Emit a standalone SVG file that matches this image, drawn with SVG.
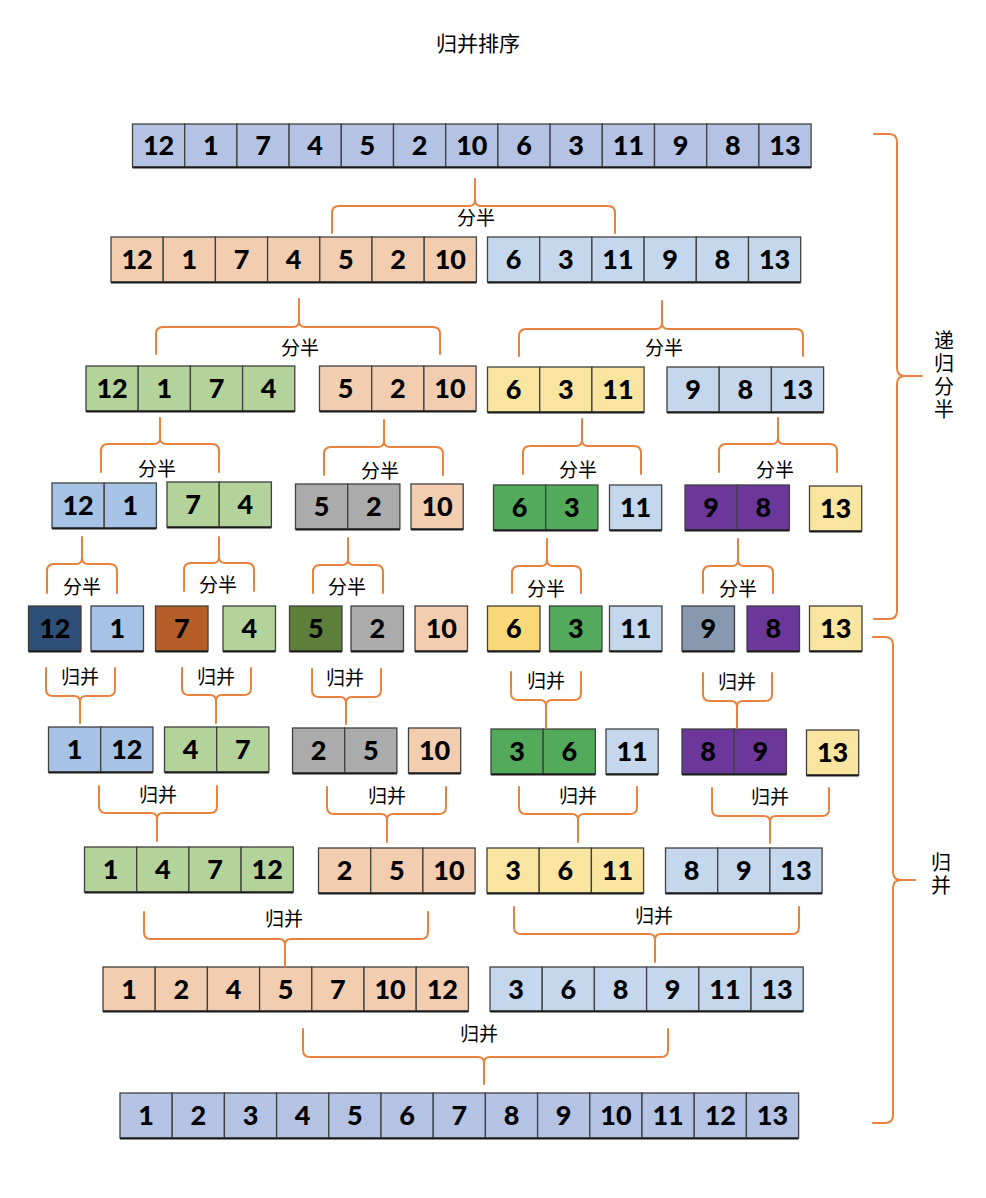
<svg xmlns="http://www.w3.org/2000/svg" width="986" height="1198" viewBox="0 0 986 1198">
<style>
.c{stroke:#404040;stroke-width:1.3}
.sh{stroke:#1a1a1a;stroke-width:2.2}
.n{font-family:Lato,"Liberation Sans",sans-serif;font-weight:900;font-size:27px;fill:#000;text-anchor:middle}
.l{font-family:"Noto Sans CJK SC",sans-serif;font-size:19px;fill:#000;text-anchor:middle}
.v{font-family:"Noto Sans CJK SC",sans-serif;font-size:20px;fill:#000;text-anchor:middle;writing-mode:vertical-rl;letter-spacing:3px}
.br{fill:none;stroke:#E8823E;stroke-width:2;stroke-linejoin:round;stroke-linecap:round}
.lav{fill:#B4C3E3}.pe{fill:#F2CDB0}.lb{fill:#C5D7EC}.gr{fill:#B4D39B}.ye{fill:#FAE5A0}.bl{fill:#A6C3E5}.gy{fill:#ABABAB}.dg{fill:#52AA5A}.pu{fill:#6B379A}
.nv{fill:#2E4F78}.bn{fill:#B55E27}.ol{fill:#5E7E3C}.go{fill:#F8D879}.sl{fill:#8898AE}
</style>
<rect width="986" height="1198" fill="#fff"/>
<text x="478" y="51" style="font-family:'Noto Sans CJK SC',sans-serif;font-size:21px;text-anchor:middle">归并排序</text>

<g id="row1">
<rect class="c lav" x="132.5" y="124" width="52.2" height="43"/><rect class="c lav" x="184.7" y="124" width="52.2" height="43"/><rect class="c lav" x="236.9" y="124" width="52.2" height="43"/><rect class="c lav" x="289.1" y="124" width="52.2" height="43"/><rect class="c lav" x="341.3" y="124" width="52.2" height="43"/><rect class="c lav" x="393.5" y="124" width="52.2" height="43"/><rect class="c lav" x="445.7" y="124" width="52.2" height="43"/><rect class="c lav" x="497.9" y="124" width="52.2" height="43"/><rect class="c lav" x="550.1" y="124" width="52.2" height="43"/><rect class="c lav" x="602.3" y="124" width="52.2" height="43"/><rect class="c lav" x="654.5" y="124" width="52.2" height="43"/><rect class="c lav" x="706.7" y="124" width="52.2" height="43"/><rect class="c lav" x="758.9" y="124" width="52.2" height="43"/>
<line class="sh" x1="132.5" y1="167.5" x2="811.1" y2="167.5"/>
<text class="n" x="158.6" y="155">12</text><text class="n" x="210.8" y="155">1</text><text class="n" x="263" y="155">7</text><text class="n" x="315.2" y="155">4</text><text class="n" x="367.4" y="155">5</text><text class="n" x="419.6" y="155">2</text><text class="n" x="471.8" y="155">10</text><text class="n" x="524" y="155">6</text><text class="n" x="576.2" y="155">3</text><text class="n" x="628.4" y="155">11</text><text class="n" x="680.6" y="155">9</text><text class="n" x="732.8" y="155">8</text><text class="n" x="785" y="155">13</text>
</g>

<g id="row2-left">
<rect class="c pe" x="111" y="237" width="52.2" height="45"/><rect class="c pe" x="163.2" y="237" width="52.2" height="45"/><rect class="c pe" x="215.4" y="237" width="52.2" height="45"/><rect class="c pe" x="267.6" y="237" width="52.2" height="45"/><rect class="c pe" x="319.8" y="237" width="52.2" height="45"/><rect class="c pe" x="372" y="237" width="52.2" height="45"/><rect class="c pe" x="424.2" y="237" width="52.2" height="45"/>
<line class="sh" x1="111" y1="282.5" x2="476.4" y2="282.5"/>
<text class="n" x="137.1" y="269">12</text><text class="n" x="189.3" y="269">1</text><text class="n" x="241.5" y="269">7</text><text class="n" x="293.7" y="269">4</text><text class="n" x="345.9" y="269">5</text><text class="n" x="398.1" y="269">2</text><text class="n" x="450.3" y="269">10</text>
</g>
<g id="row2-right">
<rect class="c lb" x="487.5" y="237" width="52.2" height="45"/><rect class="c lb" x="539.7" y="237" width="52.2" height="45"/><rect class="c lb" x="591.9" y="237" width="52.2" height="45"/><rect class="c lb" x="644.1" y="237" width="52.2" height="45"/><rect class="c lb" x="696.3" y="237" width="52.2" height="45"/><rect class="c lb" x="748.5" y="237" width="52.2" height="45"/>
<line class="sh" x1="487.5" y1="282.5" x2="800.7" y2="282.5"/>
<text class="n" x="513.6" y="269">6</text><text class="n" x="565.8" y="269">3</text><text class="n" x="618" y="269">11</text><text class="n" x="670.2" y="269">9</text><text class="n" x="722.4" y="269">8</text><text class="n" x="774.6" y="269">13</text>
</g>

<g id="row3-a">
<rect class="c gr" x="86" y="366" width="52.2" height="45"/><rect class="c gr" x="138.2" y="366" width="52.2" height="45"/><rect class="c gr" x="190.4" y="366" width="52.2" height="45"/><rect class="c gr" x="242.6" y="366" width="52.2" height="45"/>
<line class="sh" x1="86" y1="411.5" x2="294.8" y2="411.5"/>
<text class="n" x="112.1" y="398">12</text><text class="n" x="164.3" y="398">1</text><text class="n" x="216.5" y="398">7</text><text class="n" x="268.7" y="398">4</text>
</g>
<g id="row3-b">
<rect class="c pe" x="319.5" y="366" width="52.2" height="45"/><rect class="c pe" x="371.7" y="366" width="52.2" height="45"/><rect class="c pe" x="423.9" y="366" width="52.2" height="45"/>
<line class="sh" x1="319.5" y1="411.5" x2="476.1" y2="411.5"/>
<text class="n" x="345.6" y="398">5</text><text class="n" x="397.8" y="398">2</text><text class="n" x="450" y="398">10</text>
</g>
<g id="row3-c">
<rect class="c ye" x="487.5" y="367" width="52.2" height="45"/><rect class="c ye" x="539.7" y="367" width="52.2" height="45"/><rect class="c ye" x="591.9" y="367" width="52.2" height="45"/>
<line class="sh" x1="487.5" y1="412.5" x2="644.1" y2="412.5"/>
<text class="n" x="513.6" y="399">6</text><text class="n" x="565.8" y="399">3</text><text class="n" x="618" y="399">11</text>
</g>
<g id="row3-d">
<rect class="c lb" x="667" y="367" width="52.2" height="45"/><rect class="c lb" x="719.2" y="367" width="52.2" height="45"/><rect class="c lb" x="771.4" y="367" width="52.2" height="45"/>
<line class="sh" x1="667" y1="412.5" x2="823.6" y2="412.5"/>
<text class="n" x="693.1" y="399">9</text><text class="n" x="745.3" y="399">8</text><text class="n" x="797.5" y="399">13</text>
</g>

<g id="row4-12-1">
<rect class="c bl" x="52" y="483" width="52.2" height="45"/><rect class="c bl" x="104.2" y="483" width="52.2" height="45"/>
<line class="sh" x1="52" y1="528.5" x2="156.4" y2="528.5"/>
<text class="n" x="78.1" y="515">12</text><text class="n" x="130.3" y="515">1</text>
</g>
<g id="row4-7-4">
<rect class="c gr" x="167" y="482" width="52.2" height="45"/><rect class="c gr" x="219.2" y="482" width="52.2" height="45"/>
<line class="sh" x1="167" y1="527.5" x2="271.4" y2="527.5"/>
<text class="n" x="193.1" y="514">7</text><text class="n" x="245.3" y="514">4</text>
</g>
<g id="row4-5-2">
<rect class="c gy" x="295.5" y="484" width="52.2" height="45"/><rect class="c gy" x="347.7" y="484" width="52.2" height="45"/>
<line class="sh" x1="295.5" y1="529.5" x2="399.9" y2="529.5"/>
<text class="n" x="321.6" y="516">5</text><text class="n" x="373.8" y="516">2</text>
</g>
<g id="row4-10">
<rect class="c pe" x="411" y="484" width="52.2" height="45"/>
<line class="sh" x1="411" y1="529.5" x2="463.2" y2="529.5"/>
<text class="n" x="437.1" y="516">10</text>
</g>
<g id="row4-6-3">
<rect class="c dg" x="493.5" y="485" width="52.2" height="45"/><rect class="c dg" x="545.7" y="485" width="52.2" height="45"/>
<line class="sh" x1="493.5" y1="530.5" x2="597.9" y2="530.5"/>
<text class="n" x="519.6" y="517">6</text><text class="n" x="571.8" y="517">3</text>
</g>
<g id="row4-11">
<rect class="c lb" x="609.5" y="485" width="52.2" height="45"/>
<line class="sh" x1="609.5" y1="530.5" x2="661.7" y2="530.5"/>
<text class="n" x="635.6" y="517">11</text>
</g>
<g id="row4-9-8">
<rect class="c pu" x="685" y="485" width="52.2" height="45"/><rect class="c pu" x="737.2" y="485" width="52.2" height="45"/>
<line class="sh" x1="685" y1="530.5" x2="789.4" y2="530.5"/>
<text class="n" x="711.1" y="517">9</text><text class="n" x="763.3" y="517">8</text>
</g>
<g id="row4-13">
<rect class="c ye" x="809.5" y="486" width="52.2" height="45"/>
<line class="sh" x1="809.5" y1="531.5" x2="861.7" y2="531.5"/>
<text class="n" x="835.6" y="518">13</text>
</g>

<g id="row5">
<g id="r5-12"><rect class="c nv" x="28.5" y="606" width="52.5" height="45"/><line class="sh" x1="28.5" y1="651.5" x2="81" y2="651.5"/><text class="n" x="54.8" y="638">12</text></g>
<g id="r5-1"><rect class="c bl" x="91" y="606" width="52.5" height="45"/><line class="sh" x1="91" y1="651.5" x2="143.5" y2="651.5"/><text class="n" x="117.3" y="638">1</text></g>
<g id="r5-7"><rect class="c bn" x="155.5" y="606" width="52.5" height="45"/><line class="sh" x1="155.5" y1="651.5" x2="208" y2="651.5"/><text class="n" x="181.8" y="638">7</text></g>
<g id="r5-4"><rect class="c gr" x="223" y="606" width="52.5" height="45"/><line class="sh" x1="223" y1="651.5" x2="275.5" y2="651.5"/><text class="n" x="249.3" y="638">4</text></g>
<g id="r5-5"><rect class="c ol" x="289.5" y="606" width="52.5" height="45"/><line class="sh" x1="289.5" y1="651.5" x2="342" y2="651.5"/><text class="n" x="315.8" y="638">5</text></g>
<g id="r5-2"><rect class="c gy" x="351" y="606" width="52.5" height="45"/><line class="sh" x1="351" y1="651.5" x2="403.5" y2="651.5"/><text class="n" x="377.3" y="638">2</text></g>
<g id="r5-10"><rect class="c pe" x="415" y="606" width="52.5" height="45"/><line class="sh" x1="415" y1="651.5" x2="467.5" y2="651.5"/><text class="n" x="441.3" y="638">10</text></g>
<g id="r5-6"><rect class="c go" x="487.5" y="606" width="52.5" height="45"/><line class="sh" x1="487.5" y1="651.5" x2="540" y2="651.5"/><text class="n" x="513.8" y="638">6</text></g>
<g id="r5-3"><rect class="c dg" x="549.5" y="606" width="52.5" height="45"/><line class="sh" x1="549.5" y1="651.5" x2="602" y2="651.5"/><text class="n" x="575.8" y="638">3</text></g>
<g id="r5-11"><rect class="c lb" x="609.5" y="606" width="52.5" height="45"/><line class="sh" x1="609.5" y1="651.5" x2="662" y2="651.5"/><text class="n" x="635.8" y="638">11</text></g>
<g id="r5-9"><rect class="c sl" x="682" y="606" width="52.5" height="45"/><line class="sh" x1="682" y1="651.5" x2="734.5" y2="651.5"/><text class="n" x="708.3" y="638">9</text></g>
<g id="r5-8"><rect class="c pu" x="747" y="606" width="52.5" height="45"/><line class="sh" x1="747" y1="651.5" x2="799.5" y2="651.5"/><text class="n" x="773.3" y="638">8</text></g>
<g id="r5-13"><rect class="c ye" x="809.5" y="606" width="52.5" height="45"/><line class="sh" x1="809.5" y1="651.5" x2="862" y2="651.5"/><text class="n" x="835.8" y="638">13</text></g>
</g>

<g id="row6-1-12">
<rect class="c bl" x="48.5" y="727" width="52.2" height="45"/><rect class="c bl" x="100.7" y="727" width="52.2" height="45"/>
<line class="sh" x1="48.5" y1="772.5" x2="152.9" y2="772.5"/>
<text class="n" x="74.6" y="759">1</text><text class="n" x="126.8" y="759">12</text>
</g>
<g id="row6-4-7">
<rect class="c gr" x="164.5" y="727" width="52.2" height="45"/><rect class="c gr" x="216.7" y="727" width="52.2" height="45"/>
<line class="sh" x1="164.5" y1="772.5" x2="268.9" y2="772.5"/>
<text class="n" x="190.6" y="759">4</text><text class="n" x="242.8" y="759">7</text>
</g>
<g id="row6-2-5">
<rect class="c gy" x="292.5" y="728" width="52.2" height="45"/><rect class="c gy" x="344.7" y="728" width="52.2" height="45"/>
<line class="sh" x1="292.5" y1="773.5" x2="396.9" y2="773.5"/>
<text class="n" x="318.6" y="760">2</text><text class="n" x="370.8" y="760">5</text>
</g>
<g id="row6-10">
<rect class="c pe" x="408.5" y="728" width="52.2" height="45"/>
<line class="sh" x1="408.5" y1="773.5" x2="460.7" y2="773.5"/>
<text class="n" x="434.6" y="760">10</text>
</g>
<g id="row6-3-6">
<rect class="c dg" x="491" y="729" width="52.2" height="45"/><rect class="c dg" x="543.2" y="729" width="52.2" height="45"/>
<line class="sh" x1="491" y1="774.5" x2="595.4" y2="774.5"/>
<text class="n" x="517.1" y="761">3</text><text class="n" x="569.3" y="761">6</text>
</g>
<g id="row6-11">
<rect class="c lb" x="606" y="729" width="52.2" height="45"/>
<line class="sh" x1="606" y1="774.5" x2="658.2" y2="774.5"/>
<text class="n" x="632.1" y="761">11</text>
</g>
<g id="row6-8-9">
<rect class="c pu" x="682" y="729" width="52.2" height="45"/><rect class="c pu" x="734.2" y="729" width="52.2" height="45"/>
<line class="sh" x1="682" y1="774.5" x2="786.4" y2="774.5"/>
<text class="n" x="708.1" y="761">8</text><text class="n" x="760.3" y="761">9</text>
</g>
<g id="row6-13">
<rect class="c ye" x="806.5" y="730" width="52.2" height="45"/>
<line class="sh" x1="806.5" y1="775.5" x2="858.7" y2="775.5"/>
<text class="n" x="832.6" y="762">13</text>
</g>

<g id="row7-a">
<rect class="c gr" x="84.5" y="847" width="52.2" height="45"/><rect class="c gr" x="136.7" y="847" width="52.2" height="45"/><rect class="c gr" x="188.9" y="847" width="52.2" height="45"/><rect class="c gr" x="241.1" y="847" width="52.2" height="45"/>
<line class="sh" x1="84.5" y1="892.5" x2="293.3" y2="892.5"/>
<text class="n" x="110.6" y="879">1</text><text class="n" x="162.8" y="879">4</text><text class="n" x="215" y="879">7</text><text class="n" x="267.2" y="879">12</text>
</g>
<g id="row7-b">
<rect class="c pe" x="318.5" y="848" width="52.2" height="45"/><rect class="c pe" x="370.7" y="848" width="52.2" height="45"/><rect class="c pe" x="422.9" y="848" width="52.2" height="45"/>
<line class="sh" x1="318.5" y1="893.5" x2="475.1" y2="893.5"/>
<text class="n" x="344.6" y="880">2</text><text class="n" x="396.8" y="880">5</text><text class="n" x="449" y="880">10</text>
</g>
<g id="row7-c">
<rect class="c ye" x="487" y="848" width="52.2" height="45"/><rect class="c ye" x="539.2" y="848" width="52.2" height="45"/><rect class="c ye" x="591.4" y="848" width="52.2" height="45"/>
<line class="sh" x1="487" y1="893.5" x2="643.6" y2="893.5"/>
<text class="n" x="513.1" y="880">3</text><text class="n" x="565.3" y="880">6</text><text class="n" x="617.5" y="880">11</text>
</g>
<g id="row7-d">
<rect class="c lb" x="665.5" y="848" width="52.2" height="45"/><rect class="c lb" x="717.7" y="848" width="52.2" height="45"/><rect class="c lb" x="769.9" y="848" width="52.2" height="45"/>
<line class="sh" x1="665.5" y1="893.5" x2="822.1" y2="893.5"/>
<text class="n" x="691.6" y="880">8</text><text class="n" x="743.8" y="880">9</text><text class="n" x="796" y="880">13</text>
</g>

<g id="row8-a">
<rect class="c pe" x="103" y="967" width="52.2" height="44"/><rect class="c pe" x="155.2" y="967" width="52.2" height="44"/><rect class="c pe" x="207.4" y="967" width="52.2" height="44"/><rect class="c pe" x="259.6" y="967" width="52.2" height="44"/><rect class="c pe" x="311.8" y="967" width="52.2" height="44"/><rect class="c pe" x="364" y="967" width="52.2" height="44"/><rect class="c pe" x="416.2" y="967" width="52.2" height="44"/>
<line class="sh" x1="103" y1="1011.5" x2="468.4" y2="1011.5"/>
<text class="n" x="129.1" y="999">1</text><text class="n" x="181.3" y="999">2</text><text class="n" x="233.5" y="999">4</text><text class="n" x="285.7" y="999">5</text><text class="n" x="337.9" y="999">7</text><text class="n" x="390.1" y="999">10</text><text class="n" x="442.3" y="999">12</text>
</g>
<g id="row8-b">
<rect class="c lb" x="490" y="967" width="52.2" height="44"/><rect class="c lb" x="542.2" y="967" width="52.2" height="44"/><rect class="c lb" x="594.4" y="967" width="52.2" height="44"/><rect class="c lb" x="646.6" y="967" width="52.2" height="44"/><rect class="c lb" x="698.8" y="967" width="52.2" height="44"/><rect class="c lb" x="751" y="967" width="52.2" height="44"/>
<line class="sh" x1="490" y1="1011.5" x2="803.2" y2="1011.5"/>
<text class="n" x="516.1" y="999">3</text><text class="n" x="568.3" y="999">6</text><text class="n" x="620.5" y="999">8</text><text class="n" x="672.7" y="999">9</text><text class="n" x="724.9" y="999">11</text><text class="n" x="777.1" y="999">13</text>
</g>

<g id="row9">
<rect class="c lav" x="120" y="1093" width="52.2" height="45"/><rect class="c lav" x="172.2" y="1093" width="52.2" height="45"/><rect class="c lav" x="224.4" y="1093" width="52.2" height="45"/><rect class="c lav" x="276.6" y="1093" width="52.2" height="45"/><rect class="c lav" x="328.8" y="1093" width="52.2" height="45"/><rect class="c lav" x="381" y="1093" width="52.2" height="45"/><rect class="c lav" x="433.2" y="1093" width="52.2" height="45"/><rect class="c lav" x="485.4" y="1093" width="52.2" height="45"/><rect class="c lav" x="537.6" y="1093" width="52.2" height="45"/><rect class="c lav" x="589.8" y="1093" width="52.2" height="45"/><rect class="c lav" x="642" y="1093" width="52.2" height="45"/><rect class="c lav" x="694.2" y="1093" width="52.2" height="45"/><rect class="c lav" x="746.4" y="1093" width="52.2" height="45"/>
<line class="sh" x1="120" y1="1138.5" x2="798.6" y2="1138.5"/>
<text class="n" x="146.1" y="1125">1</text><text class="n" x="198.3" y="1125">2</text><text class="n" x="250.5" y="1125">3</text><text class="n" x="302.7" y="1125">4</text><text class="n" x="354.9" y="1125">5</text><text class="n" x="407.1" y="1125">6</text><text class="n" x="459.3" y="1125">7</text><text class="n" x="511.5" y="1125">8</text><text class="n" x="563.7" y="1125">9</text><text class="n" x="615.9" y="1125">10</text><text class="n" x="668.1" y="1125">11</text><text class="n" x="720.3" y="1125">12</text><text class="n" x="772.5" y="1125">13</text>
</g>

<g id="connectors" class="br">
<path d="M332 233V213Q332 206 339 206H469Q475 206 475 200V179M475 200Q475 206 481 206H608Q615 206 615 213V233"/>
<path d="M156 354V334Q156 327 163 327H293Q299 327 299 321V299M299 321Q299 327 305 327H433Q440 327 440 334V354"/>
<path d="M519 356V336Q519 329 526 329H656Q662 329 662 323V301M662 323Q662 329 668 329H796Q803 329 803 336V356"/>
<path d="M101 472V451Q101 444 108 444H154Q160 444 160 438V418M160 438Q160 444 166 444H212Q219 444 219 451V472"/>
<path d="M324 475V454Q324 447 331 447H378Q384 447 384 441V420M384 441Q384 447 390 447H436Q443 447 443 454V475"/>
<path d="M523 474V453Q523 446 530 446H576Q582 446 582 440V419M582 440Q582 446 588 446H634Q641 446 641 453V474"/>
<path d="M719 472V451Q719 444 726 444H772Q778 444 778 438V418M778 438Q778 444 784 444H830Q837 444 837 451V472"/>
<path d="M47 593V571Q47 564 54 564H76Q82 564 82 558V537M82 558Q82 564 88 564H110Q117 564 117 571V593"/>
<path d="M184 591V570Q184 563 191 563H213Q219 563 219 557V537M219 557Q219 563 225 563H247Q254 563 254 570V591"/>
<path d="M313 593V572Q313 565 320 565H342Q348 565 348 559V538M348 559Q348 565 354 565H376Q383 565 383 572V593"/>
<path d="M512 593V573Q512 566 519 566H541Q547 566 547 560V539M547 560Q547 566 553 566H574Q581 566 581 573V593"/>
<path d="M703 593V573Q703 566 710 566H732Q738 566 738 560V539M738 560Q738 566 744 566H766Q773 566 773 573V593"/>
<path d="M46 668V689Q46 696 53 696H74Q80 696 80 702V723M80 702Q80 696 86 696H108Q115 696 115 689V668"/>
<path d="M182 668V688Q182 695 189 695H210Q216 695 216 701V723M216 701Q216 695 222 695H244Q251 695 251 688V668"/>
<path d="M312 669V690Q312 697 319 697H340Q346 697 346 703V724M346 703Q346 697 352 697H374Q381 697 381 690V669"/>
<path d="M511 672V693Q511 700 518 700H540Q546 700 546 706V728M546 706Q546 700 552 700H574Q581 700 581 693V672"/>
<path d="M703 673V694Q703 701 710 701H731Q737 701 737 707V728M737 707Q737 701 743 701H765Q772 701 772 694V673"/>
<path d="M99 786V806Q99 813 106 813H151Q157 813 157 819V841M157 819Q157 813 163 813H210Q217 813 217 806V786"/>
<path d="M327 787V807Q327 814 334 814H381Q387 814 387 820V842M387 820Q387 814 393 814H439Q446 814 446 807V787"/>
<path d="M519 787V807Q519 814 526 814H572Q578 814 578 820V842M578 820Q578 814 584 814H630Q637 814 637 807V787"/>
<path d="M712 788V809Q712 816 719 816H764Q770 816 770 822V843M770 822Q770 816 776 816H822Q829 816 829 809V788"/>
<path d="M144 912V932Q144 939 151 939H279Q285 939 285 945V966M285 945Q285 939 291 939H421Q428 939 428 932V912"/>
<path d="M514 907V927Q514 934 521 934H649Q655 934 655 940V962M655 940Q655 934 661 934H792Q799 934 799 927V907"/>
<path d="M303 1029V1050Q303 1057 310 1057H478Q484 1057 484 1063V1084M484 1063Q484 1057 490 1057H661Q668 1057 668 1050V1029"/>
<path d="M874 134H889Q897 134 897 142V368Q897 376 905 376H922M905 376Q897 376 897 384V611Q897 619 889 619H874"/>
<path d="M873 637H885Q893 637 893 645V872Q893 880 901 880H915M901 880Q893 880 893 888V1115Q893 1123 885 1123H873"/>
</g>

<g id="labels" class="l">
<text x="476" y="225">分半</text>
<text x="300" y="355">分半</text>
<text x="664" y="355">分半</text>
<text x="157" y="476">分半</text>
<text x="380" y="478">分半</text>
<text x="578" y="477">分半</text>
<text x="775" y="477">分半</text>
<text x="82" y="594">分半</text>
<text x="218" y="592">分半</text>
<text x="347" y="594">分半</text>
<text x="546" y="596">分半</text>
<text x="738" y="596">分半</text>
<text x="80" y="684">归并</text>
<text x="216" y="684">归并</text>
<text x="345" y="685">归并</text>
<text x="546" y="688">归并</text>
<text x="737" y="689">归并</text>
<text x="158" y="802">归并</text>
<text x="387" y="803">归并</text>
<text x="578" y="803">归并</text>
<text x="770" y="804">归并</text>
<text x="284" y="926">归并</text>
<text x="654" y="923">归并</text>
<text x="479" y="1041">归并</text>
<text class="v" x="944" y="376">递归分半</text>
<text class="v" x="941" y="875">归并</text>
</g>
</svg>
